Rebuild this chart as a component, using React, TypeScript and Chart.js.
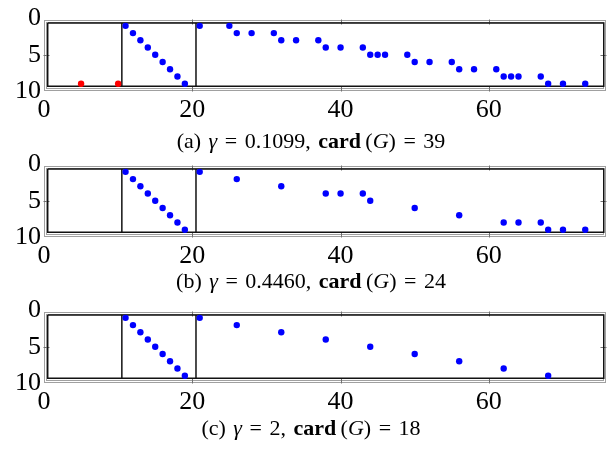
import React, { useEffect, useRef } from "react";
import { Chart, registerables } from "chart.js";

Chart.register(...registerables);

// ---- axis / tick data ----
const X_TICKS = [0, 20, 40, 60];
const Y_TICKS = [0, 5, 10];
const X_MIN = 0;
const X_MAX = 75.8;
const Y_MIN = 0;
const Y_MAX = 10;

// block boundaries (columns) and row extent of the black box
const BLOCK_X = [0.5, 10.5, 20.5, 75.5];
const BLOCK_Y = [0.6, 9.33];

// ---- panel (a) ----
const A_BLUE_X = [11, 12, 13, 14, 15, 16, 17, 18, 19, 21, 25, 26, 28, 31, 32, 34, 37, 38, 40, 43, 44, 45, 46, 49, 50, 52, 55, 56, 58, 61, 62, 63, 64, 67, 68, 70, 73];
const A_BLUE_Y = [1, 2, 3, 4, 5, 6, 7, 8, 9, 1, 1, 2, 2, 2, 3, 3, 3, 4, 4, 4, 5, 5, 5, 5, 6, 6, 6, 7, 7, 7, 8, 8, 8, 8, 9, 9, 9];
const A_RED_X = [5, 10];
const A_RED_Y = [9, 9];

// ---- panel (b) ----
const B_BLUE_X = [11, 12, 13, 14, 15, 16, 17, 18, 19, 21, 26, 32, 38, 40, 43, 44, 50, 56, 62, 64, 67, 68, 70, 73];
const B_BLUE_Y = [1, 2, 3, 4, 5, 6, 7, 8, 9, 1, 2, 3, 4, 4, 4, 5, 6, 7, 8, 8, 8, 9, 9, 9];

// ---- panel (c) ----
const C_BLUE_X = [11, 12, 13, 14, 15, 16, 17, 18, 19, 21, 26, 32, 38, 44, 50, 56, 62, 68];
const C_BLUE_Y = [1, 2, 3, 4, 5, 6, 7, 8, 9, 1, 2, 3, 4, 5, 6, 7, 8, 9];

const FONT = "'Liberation Serif', 'Times New Roman', serif";

const zip = (xs: number[], ys: number[]) => xs.map((x, i) => ({ x, y: ys[i] }));

const framePlugin = {
  id: "pgfFrame",
  beforeDatasetsDraw(chart: any) {
    const { ctx, chartArea, scales } = chart;
    const xs = scales.x;
    const ys = scales.y;
    const top = Math.round(ys.getPixelForValue(0.2)) + 0.5;
    const bottom = Math.round(ys.getPixelForValue(9.85)) + 0.5;
    const left = Math.round(chartArea.left) + 0.5;
    const right = Math.round(chartArea.right) - 0.5;
    ctx.save();
    ctx.strokeStyle = "#a0a0a0";
    ctx.lineWidth = 1;
    ctx.strokeRect(left, top, right - left, bottom - top);
    ctx.strokeRect(left + 2, top + 2, right - left - 4, bottom - top - 4);
    // tick marks (inward)
    ctx.strokeStyle = "#707070";
    ctx.beginPath();
    X_TICKS.forEach((v) => {
      if (v <= X_MIN) return;
      const px = Math.round(xs.getPixelForValue(v)) + 0.5;
      ctx.moveTo(px, top - 1);
      ctx.lineTo(px, top + 4);
      ctx.moveTo(px, bottom + 1);
      ctx.lineTo(px, bottom - 4);
    });
    Y_TICKS.forEach((v) => {
      if (v <= Y_MIN || v >= Y_MAX) return;
      const py = Math.round(ys.getPixelForValue(v)) + 0.5;
      ctx.moveTo(left - 1, py);
      ctx.lineTo(left + 5, py);
      ctx.moveTo(right + 1, py);
      ctx.lineTo(right - 5, py);
    });
    ctx.stroke();
    ctx.restore();
  },
};

function lineDs(points: { x: number; y: number }[]) {
  return {
    type: "line" as const,
    data: points,
    showLine: true,
    borderColor: "#111",
    borderWidth: 1.5,
    pointRadius: 0,
    fill: false,
    tension: 0,
    order: 5,
  };
}

function Panel(props: { top: number; blueX: number[]; blueY: number[]; redX?: number[]; redY?: number[] }) {
  const ref = useRef<HTMLCanvasElement>(null);
  useEffect(() => {
    if (!ref.current) return;
    const datasets: any[] = [
      {
        type: "scatter",
        data: zip(props.blueX, props.blueY),
        backgroundColor: "#0000ff",
        borderWidth: 0,
        pointRadius: 3.2,
        order: 1,
      },
    ];
    if (props.redX && props.redY) {
      datasets.push({
        type: "scatter",
        data: zip(props.redX, props.redY),
        backgroundColor: "#ff0000",
        borderWidth: 0,
        pointRadius: 3.2,
        order: 1,
      });
    }
    const [b0, b1, b2, b3] = BLOCK_X;
    const [y0, y1] = BLOCK_Y;
    datasets.push(lineDs([{ x: b0, y: y0 }, { x: b3, y: y0 }, { x: b3, y: y1 }, { x: b0, y: y1 }, { x: b0, y: y0 }]));
    datasets.push(lineDs([{ x: b1, y: y0 }, { x: b1, y: y1 }]));
    datasets.push(lineDs([{ x: b2, y: y0 }, { x: b2, y: y1 }]));

    const chart = new Chart(ref.current, {
      type: "scatter",
      data: { datasets },
      options: {
        animation: false,
        responsive: false,
        maintainAspectRatio: false,
        devicePixelRatio: 1,
        layout: { padding: { top: 16, right: 4, left: 0, bottom: 0 } },
        plugins: {
          legend: { display: false },
          tooltip: { enabled: false },
          title: { display: false },
        },
        scales: {
          x: {
            type: "linear",
            min: X_MIN,
            max: X_MAX,
            grid: { display: false, drawTicks: false },
            border: { display: false },
            afterBuildTicks: (s: any) => {
              s.ticks = X_TICKS.map((v) => ({ value: v }));
            },
            afterFit: (s: any) => {
              s.height = 39;
            },
            ticks: {
              font: { family: FONT, size: 26 },
              color: "#000",
              padding: 4,
              maxRotation: 0,
              autoSkip: false,
            },
          },
          y: {
            type: "linear",
            reverse: true,
            min: Y_MIN,
            max: Y_MAX,
            grid: { display: false, drawTicks: false },
            border: { display: false },
            afterBuildTicks: (s: any) => {
              s.ticks = Y_TICKS.map((v) => ({ value: v }));
            },
            afterFit: (s: any) => {
              s.width = 44;
            },
            ticks: {
              font: { family: FONT, size: 26 },
              color: "#000",
              padding: 3,
              autoSkip: false,
            },
          },
        },
      },
      plugins: [framePlugin],
    } as any);
    return () => chart.destroy();
  }, []);
  return (
    <canvas
      ref={ref}
      width={610}
      height={130}
      style={{ position: "absolute", left: 0, top: props.top, width: 610, height: 130, display: "block" }}
    />
  );
}

function Caption(props: { top: number; label: string; gamma: string; card: string }) {
  return (
    <div
      style={{
        position: "absolute",
        left: 0,
        width: 622,
        top: props.top,
        textAlign: "center",
        fontFamily: FONT,
        fontSize: 22,
        lineHeight: "24px",
        color: "#000",
        whiteSpace: "nowrap",
        wordSpacing: "2px",
      }}
    >
      ({props.label}) <i>γ</i> = {props.gamma}, <b>card</b>&thinsp;(<i>G</i>) = {props.card}
    </div>
  );
}

export default function App() {
  return (
    <div style={{ position: "absolute", left: 0, top: 0, width: 610, height: 449, background: "#fff", overflow: "hidden" }}>
      <Panel top={0} blueX={A_BLUE_X} blueY={A_BLUE_Y} redX={A_RED_X} redY={A_RED_Y} />
      <Caption top={129} label="a" gamma="0.1099" card="39" />
      <Panel top={146} blueX={B_BLUE_X} blueY={B_BLUE_Y} />
      <Caption top={269} label="b" gamma="0.4460" card="24" />
      <Panel top={292} blueX={C_BLUE_X} blueY={C_BLUE_Y} />
      <Caption top={416} label="c" gamma="2" card="18" />
    </div>
  );
}
